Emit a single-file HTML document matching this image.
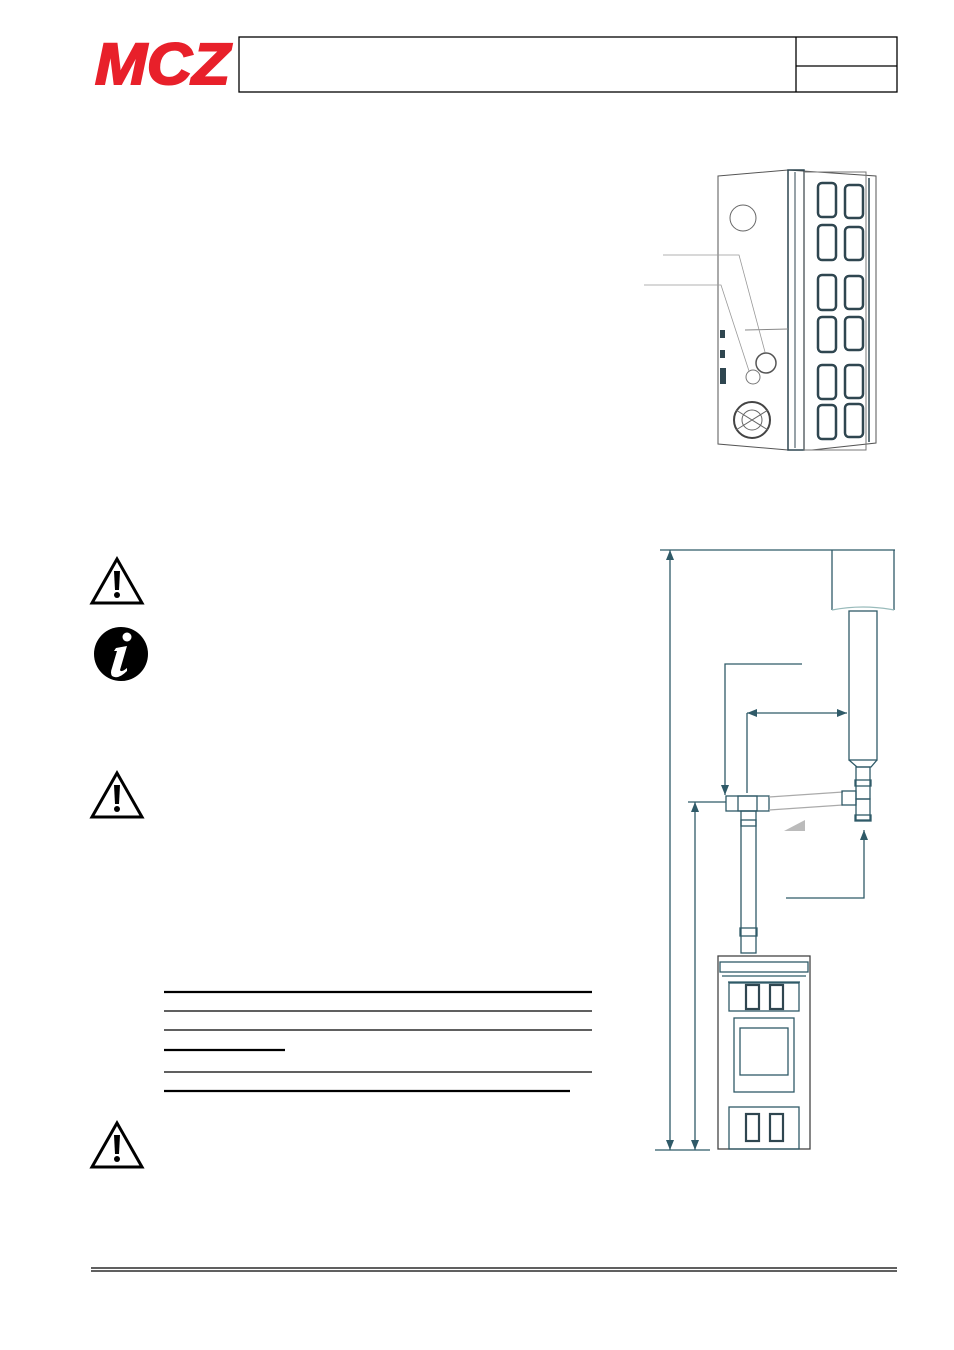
<!DOCTYPE html>
<html><head><meta charset="utf-8"><style>
html,body{margin:0;padding:0;background:#fff;}
svg{display:block;}
</style></head><body>
<svg width="954" height="1350" viewBox="0 0 954 1350" xmlns="http://www.w3.org/2000/svg">
<!-- logo -->
<text x="95" y="84" font-family="Liberation Sans, sans-serif" font-weight="bold" font-style="italic" font-size="58" fill="#e8202a" stroke="#e8202a" stroke-width="2" textLength="135" lengthAdjust="spacingAndGlyphs">MCZ</text>
<!-- header box -->
<rect x="239" y="37" width="658" height="55" fill="none" stroke="#000" stroke-width="1.3"/>
<line x1="796" y1="37" x2="796" y2="92" stroke="#000" stroke-width="1.3"/>
<line x1="796" y1="66" x2="897" y2="66" stroke="#000" stroke-width="1.3"/>

<!-- top right stove rear view -->
<g fill="none" stroke="#2f4650" stroke-width="1">
<path d="M718 176 L788 170 L876 176 L876 443 L812 450 L788 450 L718 444 Z" stroke="#555"/>
<rect x="788" y="170" width="16" height="280" stroke-width="1.5"/>
<line x1="795" y1="172" x2="795" y2="448"/>
<rect x="804" y="172" width="62" height="278" stroke="#777"/>
<line x1="869" y1="178" x2="869" y2="442" stroke-width="1.5"/>
<circle cx="743" cy="218" r="13" stroke="#666"/>
<circle cx="766" cy="363" r="10" stroke="#555" stroke-width="1.5"/>
<circle cx="753" cy="377" r="7" stroke="#777"/>
<circle cx="752" cy="420" r="18" stroke="#444" stroke-width="2"/>
<circle cx="752" cy="420" r="10" stroke="#666"/>
<path d="M736 410 L768 430 M736 430 L768 410" stroke="#666"/>
<line x1="745" y1="330" x2="788" y2="329" stroke="#888"/>
</g>
<g fill="none" stroke="#2f4650" stroke-width="2.5">
<rect x="818" y="183" width="18" height="34" rx="4"/><rect x="845" y="185" width="18" height="33" rx="4"/>
<rect x="818" y="225" width="18" height="35" rx="4"/><rect x="845" y="227" width="18" height="33" rx="4"/>
<rect x="818" y="275" width="18" height="35" rx="4"/><rect x="845" y="276" width="18" height="33" rx="4"/>
<rect x="818" y="317" width="18" height="35" rx="4"/><rect x="845" y="317" width="18" height="33" rx="4"/>
<rect x="818" y="365" width="18" height="34" rx="4"/><rect x="845" y="365" width="18" height="33" rx="4"/>
<rect x="818" y="405" width="18" height="34" rx="4"/><rect x="845" y="404" width="18" height="33" rx="4"/>
</g>
<g fill="#2f4650"><rect x="720" y="330" width="5" height="8"/><rect x="720" y="350" width="5" height="8"/><rect x="720" y="368" width="6" height="16"/></g>
<g fill="none" stroke="#999" stroke-width="0.8">
<polyline points="663,255 739,255 765,352"/>
<polyline points="644,285 721,285 749,371"/>
</g>

<!-- installation diagram -->
<g fill="none" stroke="#2f5a68" stroke-width="1.3">
<line x1="660" y1="550" x2="895" y2="550"/>
<line x1="832" y1="550" x2="832" y2="610"/><line x1="894" y1="550" x2="894" y2="610"/>
<path d="M832 610 Q863 604 894 610" stroke="#9bb"/>
<rect x="849" y="611" width="28" height="149"/>
<path d="M849 760 L857 767 L871 767 L877 760"/>
<rect x="856" y="767" width="14" height="32"/>
<rect x="855" y="780" width="16" height="6"/>
<rect x="856" y="799" width="14" height="21"/>
<rect x="855" y="815" width="16" height="6"/>
<line x1="670" y1="550" x2="670" y2="1150"/>
<line x1="695" y1="802" x2="695" y2="1150"/>
<line x1="688" y1="802" x2="726" y2="802"/>
<line x1="655" y1="1150" x2="710" y2="1150"/>
<polyline points="725,795 725,664 802,664"/>
<line x1="747" y1="713" x2="847" y2="713"/>
<line x1="747" y1="713" x2="747" y2="793"/>
<polyline points="786,898 864,898 864,830"/>
<rect x="726" y="796" width="43" height="15"/>
<rect x="738" y="796" width="19" height="15"/>
<path d="M769 797 L843 792 M769 810 L843 805" stroke="#aaa"/>
<rect x="842" y="791" width="14" height="14"/>
<rect x="741" y="811" width="15" height="142"/>
<rect x="741" y="820" width="15" height="6"/>
<rect x="740" y="928" width="17" height="8"/>
<!-- stove -->
<rect x="718" y="956" width="92" height="193" stroke="#444"/>
<rect x="720" y="962" width="88" height="10"/>
<line x1="722" y1="976" x2="806" y2="976"/>
<line x1="728" y1="982" x2="800" y2="982"/>
<rect x="729" y="983" width="70" height="28"/>
<rect x="734" y="1018" width="60" height="74"/>
<rect x="740" y="1028" width="48" height="47"/>
<rect x="729" y="1107" width="70" height="42"/>
</g>
<g fill="none" stroke="#2f4650" stroke-width="2.2">
<rect x="746" y="985" width="13" height="24"/><rect x="770" y="985" width="13" height="24"/>
<rect x="746" y="1114" width="13" height="27"/><rect x="770" y="1114" width="13" height="27"/>
</g>
<polygon points="784,831 805,820 805,831" fill="#bbb"/>
<g fill="#2f5a68">
<polygon points="666,560 674,560 670,550"/>
<polygon points="666,1140 674,1140 670,1150"/>
<polygon points="691,812 699,812 695,802"/>
<polygon points="691,1140 699,1140 695,1150"/>
<polygon points="721,785 729,785 725,795"/>
<polygon points="757,709 757,717 747,713"/>
<polygon points="837,709 837,717 847,713"/>
<polygon points="860,840 868,840 864,830"/>
</g>

<!-- warning icons -->
<g>
<polygon points="117,559 92,603 142,603" fill="none" stroke="#000" stroke-width="3"/>
<path d="M114 571 L120 571 L119 590 L115 590 Z" fill="#000"/><circle cx="117" cy="595" r="3" fill="#000"/>
<polygon points="117,773 92,817 142,817" fill="none" stroke="#000" stroke-width="3"/>
<path d="M114 785 L120 785 L119 804 L115 804 Z" fill="#000"/><circle cx="117" cy="809" r="3" fill="#000"/>
<polygon points="117,1123 92,1167 142,1167" fill="none" stroke="#000" stroke-width="3"/>
<path d="M114 1135 L120 1135 L119 1154 L115 1154 Z" fill="#000"/><circle cx="117" cy="1159" r="3" fill="#000"/>
<circle cx="121" cy="654" r="27" fill="#000"/>
<circle cx="127" cy="637" r="4.5" fill="#fff"/>
<path d="M116 648 L127 646 L120 670 Q121 673 127 668 L127 671 Q118 680 112 676 Q110 673 112 668 L117 651 L114 651 Z" fill="#fff"/>
</g>

<!-- table lines -->
<g stroke="#000">
<line x1="164" y1="992" x2="592" y2="992" stroke-width="2.2"/>
<line x1="164" y1="1011" x2="592" y2="1011" stroke-width="1.2"/>
<line x1="164" y1="1030" x2="592" y2="1030" stroke-width="1.2"/>
<line x1="164" y1="1050" x2="285" y2="1050" stroke-width="2.2"/>
<line x1="164" y1="1072" x2="592" y2="1072" stroke-width="1.2"/>
<line x1="164" y1="1091" x2="570" y2="1091" stroke-width="2.2"/>
<line x1="91" y1="1268" x2="897" y2="1268" stroke-width="1.3"/>
<line x1="91" y1="1271" x2="897" y2="1271" stroke-width="1.3"/>
</g>
</svg>
</body></html>
